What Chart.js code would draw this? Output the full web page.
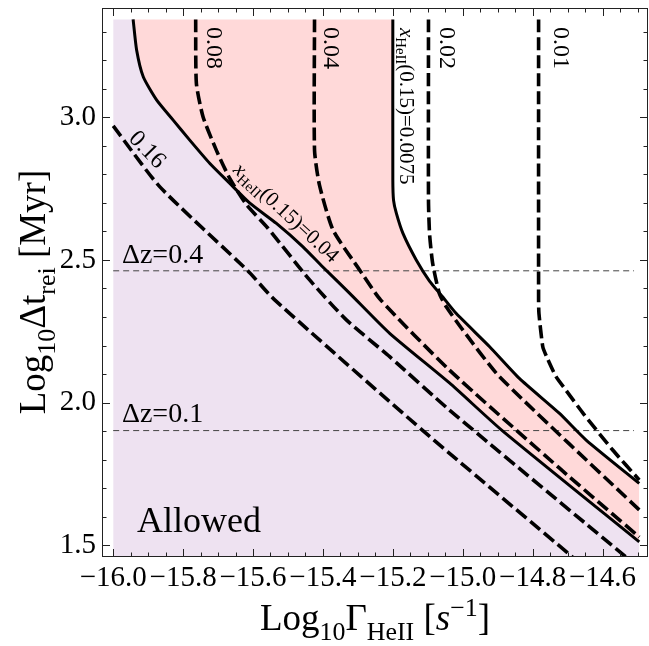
<!DOCTYPE html>
<html><head><meta charset="utf-8">
<script src="https://cdn.jsdelivr.net/npm/chart.js@4.4.1/dist/chart.umd.min.js"></script>
<style>html,body{margin:0;padding:0;background:#fff;}#wrap{width:649px;height:646px;}</style>
</head><body><div id="wrap"><canvas id="c" width="649" height="646"></canvas></div>
<script>
// ---------------- data ----------------
const xTicks = [-16.0,-15.8,-15.6,-15.4,-15.2,-15.0,-14.8,-14.6];
const yTicks = [1.5,2.0,2.5,3.0];
const xRange = [-16.032,-14.47];
const yRange = [1.459,3.383];
const yTop = 3.343;
const xStart = -16.0;

// solid x_HeII(0.15)=0.04
const solid004X = [-15.943,-15.933,-15.914,-15.876,-15.829,-15.781,-15.724,-15.667,-15.609,-15.533,-15.457,-15.401,-15.324,-15.209,-15.038,-14.887,-14.495];
const solid004Y = [3.343,3.236,3.142,3.061,2.991,2.920,2.839,2.769,2.699,2.628,2.546,2.476,2.384,2.243,2.069,1.902,1.512];
// solid x_HeII(0.15)=0.0075
const solid0075X = [-15.200,-15.200,-15.198,-15.190,-15.171,-15.133,-15.095,-15.057,-15.019,-14.923,-14.838,-14.724,-14.647,-14.495];
const solid0075Y = [3.343,2.780,2.710,2.664,2.593,2.500,2.426,2.370,2.313,2.196,2.085,1.963,1.869,1.717];
// dashed contours
const dash016X = [-16.0,-15.867,-15.615,-15.538,-15.114,-14.686];
const dash016Y = [2.970,2.757,2.462,2.360,1.902,1.459];
const dash008X = [-15.764,-15.762,-15.743,-15.705,-15.667,-15.618,-15.558,-15.438,-15.333,-15.209,-15.038,-14.533];
const dash008Y = [3.343,3.119,3.002,2.885,2.787,2.693,2.612,2.430,2.290,2.161,1.974,1.459];
const dash004X = [-15.424,-15.424,-15.410,-15.371,-15.295,-15.235,-15.038,-14.724,-14.495];
const dash004Y = [3.343,2.885,2.763,2.605,2.465,2.360,2.114,1.771,1.529];
const dash002X = [-15.098,-15.098,-15.095,-15.086,-15.067,-15.047,-15.000,-14.895,-14.495];
const dash002Y = [3.343,2.710,2.593,2.488,2.383,2.336,2.255,2.091,1.624];
const dash001X = [-14.783,-14.783,-14.782,-14.771,-14.760,-14.733,-14.705,-14.654,-14.571,-14.495];
const dash001Y = [3.343,2.360,2.313,2.196,2.161,2.091,2.044,1.960,1.834,1.729];
// Delta z reference lines
const dzValues = [2.462, 1.902];
const dzLabels = ['Δz=0.4','Δz=0.1'];
const dzXRange = [-16.0,-14.51];

// ---------------- chart ----------------
const FAM = '"Liberation Serif","Times New Roman",serif';
const zip = (xs, ys) => xs.map((v,i)=>({x:v,y:ys[i]}));
const curve = (xs, ys, dashed) => ({
  data: zip(xs, ys), showLine:true, pointRadius:0, borderColor:'#000',
  borderWidth: dashed?3.6:3, borderDash: dashed?[13,5]:[], tension:0.2, fill:false, order:1
});

const datasets = [
  {data:[{x:solid004X[0],y:yTop}, ...zip(solid0075X, solid0075Y)], showLine:true, pointRadius:0,
   borderWidth:0, borderColor:'rgba(0,0,0,0)', backgroundColor:'rgb(255,217,217)', fill:'start', tension:0, order:10},
  {data:[{x:xStart,y:yTop}, ...zip(solid004X, solid004Y)], showLine:true, pointRadius:0,
   borderWidth:0, borderColor:'rgba(0,0,0,0)', backgroundColor:'rgb(238,226,241)', fill:'start', tension:0, order:9},
];
dzValues.forEach(v => datasets.push({data:[{x:dzXRange[0],y:v},{x:dzXRange[1],y:v}], showLine:true, pointRadius:0,
  borderColor:'#444', borderWidth:1, borderDash:[6,4], fill:false, order:5}));
datasets.push(curve(dash016X, dash016Y, true));
datasets.push(curve(dash008X, dash008Y, true));
datasets.push(curve(dash004X, dash004Y, true));
datasets.push(curve(dash002X, dash002Y, true));
datasets.push(curve(dash001X, dash001Y, true));
datasets.push(curve(solid004X, solid004Y, false));
datasets.push(curve(solid0075X, solid0075Y, false));

function fontOf(st, size){
  const small = st==='sub'||st==='sup';
  const s = small ? size*0.7 : size;
  return (st==='i'?'italic ':'') + s + 'px ' + FAM;
}
function drawRich(ctx, parts, x, y, size, align, baseline){
  ctx.textBaseline = baseline; ctx.textAlign = 'left';
  const ws = parts.map(([t,st]) => { ctx.font = fontOf(st,size); return ctx.measureText(t).width; });
  const total = ws.reduce((a,b)=>a+b,0);
  let cx = align==='center' ? x-total/2 : (align==='right' ? x-total : x);
  parts.forEach(([t,st],i)=>{
    ctx.font = fontOf(st,size);
    const dy = st==='sub' ? size*0.28 : (st==='sup' ? -size*0.38 : 0);
    ctx.fillText(t, cx, y+dy); cx += ws[i];
  });
}

const xHe = [['x','i'],['HeII','sub']];
const plotLabels = [
  {parts:[['0.08','']], x:-15.715, y:3.3165, rot:90, size:24, align:'left', base:'middle'},
  {parts:[['0.04','']], x:-15.378, y:3.3165, rot:90, size:24, align:'left', base:'middle'},
  {parts:[['0.02','']], x:-15.047, y:3.3165, rot:90, size:24, align:'left', base:'middle'},
  {parts:[['0.01','']], x:-14.721, y:3.3165, rot:90, size:24, align:'left', base:'middle'},
  {parts:[...xHe,['(0.15)=0.0075','']], x:-15.164, y:3.313, rot:90, size:21, align:'left', base:'middle'},
  {parts:[['0.16','']], x:-15.904, y:2.885, rot:46, size:24, align:'center', base:'middle'},
  {parts:[...xHe,['(0.15)=0.04','']], x:-15.507, y:2.664, rot:43, size:21, align:'center', base:'middle'},
  {parts:[[dzLabels[0],'']], x:-15.975, y:2.489, rot:0, size:28, align:'left', base:'alphabetic'},
  {parts:[[dzLabels[1],'']], x:-15.975, y:1.932, rot:0, size:28, align:'left', base:'alphabetic'},
  {parts:[['Allowed','']], x:-15.932, y:1.547, rot:0, size:36, align:'left', base:'alphabetic'},
];

const overlay = {
  id:'overlay',
  afterDraw(chart){
    const {ctx, chartArea:a, scales:{x, y}} = chart;
    ctx.save();
    ctx.strokeStyle = '#222'; ctx.lineWidth = 1;
    ctx.strokeRect(a.left+0.5, a.top+0.5, a.right-a.left-1, a.bottom-a.top-1);
    ctx.beginPath();
    for (let k=0; ; k++){
      const v = -16.0 + k*0.05;
      if (v > xRange[1]) break;
      const len = (k%4===0) ? 8 : 4.5;
      const px = Math.round(x.getPixelForValue(v))+0.5;
      ctx.moveTo(px, a.bottom); ctx.lineTo(px, a.bottom-len);
      ctx.moveTo(px, a.top); ctx.lineTo(px, a.top+len);
    }
    for (let k=0; ; k++){
      const v = 1.5 + k*0.1;
      if (v > yRange[1]) break;
      const len = (k%5===0) ? 8 : 4.5;
      const py = Math.round(y.getPixelForValue(v))+0.5;
      ctx.moveTo(a.left, py); ctx.lineTo(a.left+len, py);
      ctx.moveTo(a.right, py); ctx.lineTo(a.right-len, py);
    }
    ctx.stroke();
    ctx.fillStyle = '#000';
    plotLabels.forEach(L => {
      ctx.save();
      ctx.translate(x.getPixelForValue(L.x), y.getPixelForValue(L.y));
      ctx.rotate(L.rot*Math.PI/180);
      drawRich(ctx, L.parts, 0, 0, L.size, L.align, L.base);
      ctx.restore();
    });
    drawRich(ctx, [['Log',''],['10','sub'],['Γ',''],['HeII','sub'],[' [',''],['s','i'],['−1','sup'],[']','']],
      (a.left+a.right)/2, 630, 37, 'center', 'alphabetic');
    ctx.save();
    ctx.translate(45, 292);
    ctx.rotate(-Math.PI/2);
    drawRich(ctx, [['Log',''],['10','sub'],['Δt',''],['rei','sub'],[' [Myr]','']], 0, 0, 37, 'center', 'alphabetic');
    ctx.restore();
    ctx.restore();
  }
};

const fmt = v => (v<0?'−':'') + Math.abs(v).toFixed(1);
new Chart(document.getElementById('c'), {
  type:'scatter',
  data:{datasets},
  options:{
    responsive:false, animation:false, devicePixelRatio:1,
    layout:{padding:{top:8,right:1,left:0,bottom:0}},
    plugins:{legend:{display:false}, tooltip:{enabled:false}},
    scales:{
      x:{type:'linear', min:xRange[0], max:xRange[1],
         grid:{display:false, drawTicks:false}, border:{display:false},
         afterBuildTicks: s => { s.ticks = xTicks.map(v=>({value:v})); },
         afterFit: s => { s.height = 89; s.paddingLeft = 0; s.paddingRight = 0; },
         ticks:{callback: v => fmt(v), color:'#000', padding:4, maxRotation:0, autoSkip:false, font:{family:FAM, size:29}}},
      y:{type:'linear', min:yRange[0], max:yRange[1],
         grid:{display:false, drawTicks:false}, border:{display:false},
         afterBuildTicks: s => { s.ticks = yTicks.map(v=>({value:v})); },
         afterFit: s => { s.width = 102; s.paddingTop = 0; s.paddingBottom = 0; },
         ticks:{callback: v => v.toFixed(1), color:'#000', padding:6, autoSkip:false, font:{family:FAM, size:29}}}
    }
  },
  plugins:[overlay]
});
</script></body></html>
